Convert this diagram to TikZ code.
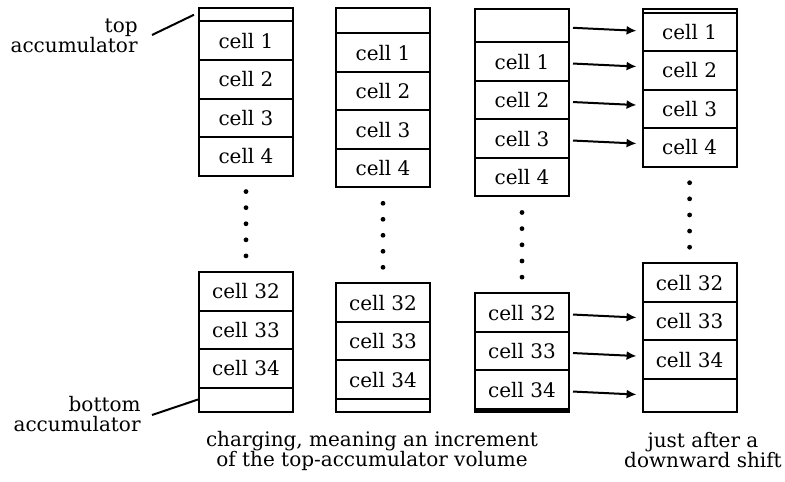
\documentclass[tikz,border=0pt]{standalone}
\usepackage{fontspec}
\setmainfont{DejaVu Serif}
\usetikzlibrary{positioning,arrows.meta}

\newcommand\tightfont{\fontsize{10pt}{10pt}\selectfont\lineskiplimit=-20pt\relax}

\tikzset{
  cell/.style={draw,line width=1pt,minimum width=47pt,minimum height=19.25pt,
    inner sep=0pt,outer sep=0pt,anchor=north},
  acc/.style={cell,minimum height=#1},
  lab/.style={align=right,anchor=east,inner sep=0pt},
  captext/.style={align=center,inner sep=0pt},
  arr/.style={-{Latex[length=5pt,width=4.5pt]},line width=1pt},
}

\begin{document}
\begin{tikzpicture}
  [x=0.5pt,y=-0.5pt,font=\tightfont]
  \useasboundingbox (0,0) rectangle (785,481);

  % column a
  \node[acc=6.75pt] (a0) at (246,8) {};
  \foreach \n in {1,...,4}
    \node[cell] (a\n) at (246,{21.5+38.5*(\n-1)}) {cell \n};
  \foreach \n in {32,33,34}
    \node[cell] (a\n) at (246,{272+38.5*(\n-32)}) {cell \n};
  \node[acc=12pt] (a35) at (246,387.5) {};

  % column b
  \node[acc=12.5pt] (b0) at (383,8.3) {};
  \foreach \n in {1,...,4}
    \node[cell] (b\n) at (383,{33.3+38.5*(\n-1)}) {cell \n};
  \foreach \n in {32,33,34}
    \node[cell] (b\n) at (383,{283.3+38.5*(\n-32)}) {cell \n};
  \node[acc=6.6pt] (b35) at (383,398.8) {};

  % column c
  \node[acc=16.5pt] (c0) at (522,9.3) {};
  \foreach \n in {1,...,4}
    \node[cell] (c\n) at (522,{42.3+38.5*(\n-1)}) {cell \n};
  \foreach \n in {32,33,34}
    \node[cell] (c\n) at (522,{293.3+38.5*(\n-32)}) {cell \n};
  \node[acc=1.5pt,fill=black] (c35) at (522,408.8) {};

  % column d
  \node[acc=1.65pt] (d0) at (689.6,9.3) {};
  \foreach \n in {1,...,4}
    \node[cell] (d\n) at (689.6,{12.6+38.5*(\n-1)}) {cell \n};
  \foreach \n in {32,33,34}
    \node[cell] (d\n) at (689.6,{263.3+38.5*(\n-32)}) {cell \n};
  \node[acc=16.75pt] (d35) at (689.6,378.8) {};

  % dots between the two halves
  \foreach \x/\y/\g in {246/175.5/16.08, 383/187.3/16, 522/196.3/16.17, 689.6/166.6/16.12}
    \foreach \k in {1,...,5}
      \fill (\x,{\y+\g*\k}) circle (1.2pt);

  % shift arrows
  \foreach \s/\t in {c0/d1, c1/d2, c2/d3, c3/d4, c32/d33, c33/d34, c34/d35}
    \draw[arr] ([xshift=2pt,yshift=-1pt]\s.east) -- ([xshift=-3pt,yshift=-2.5pt]\s.east -| \t.west);

  % labels
  \node[lab] (toplab) at (138,36) {top\\accumulator};
  \node[lab] (botlab) at (141,414) {bottom\\accumulator};
  \draw[line width=1pt] ([xshift=7pt,yshift=0.5pt]toplab.east) -- ([xshift=-2.5pt]a0.west);
  \draw[line width=1pt] ([xshift=5.5pt,yshift=-0.5pt]botlab.east) -- ([xshift=-0.5pt]a35.west);

  \node[captext] (capl) at (372,451) {charging, meaning an increment\\of the top-accumulator volume};
  \node[captext] (capr) at (703,450) {just after a\\downward shift};
\end{tikzpicture}
\end{document}
